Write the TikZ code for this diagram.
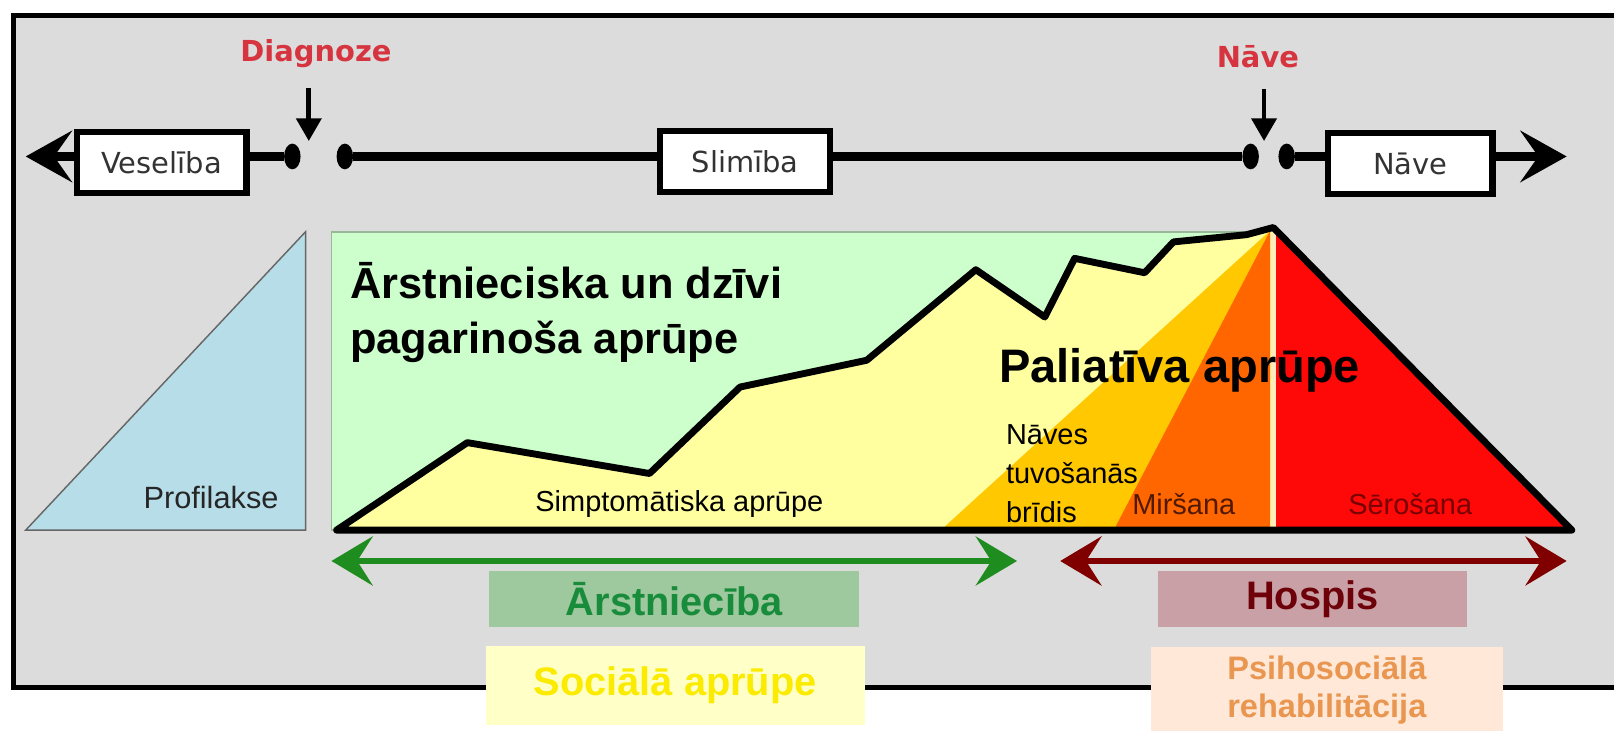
\documentclass[tikz,border=0pt]{standalone}
\usepackage{fontspec}
\setmainfont{Liberation Sans}
\newfontfamily\boxfont{DejaVu Sans}
\usetikzlibrary{arrows.meta, shapes.geometric}
\definecolor{framegray}{RGB}{220, 220, 220}
\definecolor{profblue}{RGB}{183, 222, 232}
\definecolor{curegreen}{RGB}{204, 255, 204}
\definecolor{sympyellow}{RGB}{255, 255, 160}
\definecolor{neargold}{RGB}{255, 200, 0}
\definecolor{dyingorange}{RGB}{255, 102, 0}
\definecolor{griefred}{RGB}{255, 8, 8}
\definecolor{creamline}{RGB}{255, 236, 190}
\definecolor{eventred}{RGB}{214, 52, 62}
\definecolor{curearrow}{RGB}{30, 140, 30}
\definecolor{hospisarrow}{RGB}{128, 0, 0}
\definecolor{curefill}{RGB}{158, 200, 158}
\definecolor{curetext}{RGB}{25, 140, 60}
\definecolor{hospisfill}{RGB}{200, 160, 166}
\definecolor{hospistext}{RGB}{110, 0, 10}
\definecolor{socialfill}{RGB}{255, 255, 200}
\definecolor{socialtext}{RGB}{250, 235, 0}
\definecolor{psychfill}{RGB}{255, 232, 215}
\definecolor{psychtext}{RGB}{232, 150, 80}
\tikzset{
  stagebox/.style={draw, line width=3.4pt, fill=white, minimum height=1.18cm, inner sep=0pt,
    font=\boxfont\fontsize{16}{18}\selectfont, text=black!80},
  tdot/.style={ellipse, fill=black, inner sep=0pt, minimum width=0.32cm, minimum height=0.5cm},
  timeline/.style={line width=4.6pt},
  eventlabel/.style={font=\boxfont\bfseries\fontsize{16}{18}\selectfont, text=eventred},
  eventarrow/.style={line width=2.6pt, -{Triangle[length=0.44cm, width=0.48cm]}},
  carearrow/.style={line width=3.6pt, {Stealth[length=0.8cm, width=0.95cm, inset=0.3cm]}-{Stealth[length=0.8cm, width=0.95cm, inset=0.3cm]}},
  servicebox/.style={minimum height=1.1cm, inner sep=0pt, font=\bfseries\fontsize{22}{24}\selectfont},
  phaselabel/.style={font=\fontsize{16}{21.5}\selectfont}
}
\begin{document}
\begin{tikzpicture}[x=0.02cm, y=-0.02cm]
        \useasboundingbox (0, 0) rectangle (1568, 710);
        \clip (0, 0) rectangle (1568, 710);
        % Frame
        \draw[line width=3pt, fill=framegray] (13, 15) rectangle (1620, 668);

        % Timeline
        \node[stagebox, minimum width=3.3cm] (ves) at (157, 158) {Veselība};
        \node[stagebox, minimum width=3.3cm] (slim) at (724, 157) {Slimība};
        \node[stagebox, minimum width=3.2cm] (nave) at (1370, 159) {Nāve};
        \node[tdot] (d1) at (284, 152) {};
        \node[tdot] (d2) at (335, 152) {};
        \node[tdot] (d3) at (1215, 152) {};
        \node[tdot] (d4) at (1250, 152) {};
        \coordinate (tlL) at (25, 152);
        \coordinate (tlR) at (1522, 152);
        \draw[timeline, -{Stealth[length=0.9cm, width=1cm, inset=0.35cm]}] (ves.west |- tlL) -- (tlL);
        \draw[timeline] (ves.east |- d1) -- (d1);
        \draw[timeline] (d2) -- (slim.west |- d2);
        \draw[timeline] (slim.east |- d3) -- (d3);
        \draw[timeline] (d4) -- (nave.west |- d4);
        \draw[timeline, -{Stealth[length=0.9cm, width=1cm, inset=0.35cm]}] (nave.east |- tlR) -- (tlR);

        % Events
        \node[eventlabel] (diag) at (307, 52) {Diagnoze};
        \node[eventlabel] (death) at (1222, 55) {Nāve};
        \coordinate (diagtip) at (300, 137);
        \coordinate (deathtip) at (1228, 137);
        \draw[eventarrow, shorten <=8pt] (diag.south -| diagtip) -- (diagtip);
        \draw[eventarrow, shorten <=8pt] (death.south -| deathtip) -- (deathtip);

        % Prophylaxis
        \draw[line width=0.8pt, draw=black!60, fill=profblue] (25, 515) -- (297, 225) -- (297, 515) -- cycle;
        \node[font=\fontsize{17}{19}\selectfont, text=black!85] (prof) at (205, 483) {Profilakse};

        % Care areas
        \draw[line width=1pt, draw=black!70!green!40, fill=curegreen] (322, 225) rectangle (1240, 515);
        \fill[sympyellow] (327, 515) -- (454, 430) -- (631, 460) -- (719, 376) -- (842, 350) -- (948, 262)
            -- (1015, 308) -- (1044, 251) -- (1112, 265) -- (1140, 235) -- (1211, 228) -- (1237, 221)
            -- (1237, 515) -- cycle;
        \fill[neargold] (914, 515) -- (1234, 224) -- (1234, 515) -- cycle;
        \fill[dyingorange] (1082, 515) -- (1234, 224) -- (1234, 515) -- cycle;
        \fill[griefred] (1239, 221) -- (1527, 515) -- (1239, 515) -- cycle;
        \draw[creamline, line width=2.6pt] (1237, 224) -- (1237, 513);
        \draw[line width=3.8pt, line join=round] (327, 515) -- (454, 430) -- (631, 460) -- (719, 376)
            -- (842, 350) -- (948, 262) -- (1015, 308) -- (1044, 251) -- (1112, 265) -- (1140, 235)
            -- (1211, 228) -- (1237, 221) -- (1527, 515) -- cycle;

        % Area labels
        \node[anchor=north west, inner sep=0pt, align=left, font=\bfseries\fontsize{24}{30}\selectfont] (cure) at (340, 255)
            {Ārstnieciska un dzīvi\\pagarinoša aprūpe};
        \node[font=\bfseries\fontsize{26}{28}\selectfont] (pal) at (1146, 360) {Paliatīva aprūpe};
        \node[phaselabel] (symp) at (660, 490) {Simptomātiska aprūpe};
        \node[phaselabel, anchor=west, align=left, inner sep=0pt] (near) at (977, 460) {Nāves\\tuvošanās\\brīdis};
        \node[phaselabel, text={rgb,255:red,80;green,25;blue,0}] (dying) at (1150, 490) {Miršana};
        \node[phaselabel, text={rgb,255:red,120;green,0;blue,0}] (grief) at (1370, 490) {Sērošana};

        % Services
        \coordinate (cureL) at (322, 545);
        \coordinate (cureR) at (988, 545);
        \coordinate (hospL) at (1030, 545);
        \coordinate (hospR) at (1522, 545);
        \draw[carearrow, curearrow] (cureL) -- (cureR);
        \draw[carearrow, hospisarrow] (hospL) -- (hospR);
        \node[servicebox, fill=curefill, text=curetext, minimum width=7.2cm] (treat) at (655, 582) {Ārstniecība};
        \node[servicebox, fill=hospisfill, text=hospistext, minimum width=6cm] (hosp) at (1275, 582) {Hospis};
        \node[servicebox, fill=socialfill, text=socialtext, minimum width=7.36cm, minimum height=1.54cm] (social) at (656, 666) {Sociālā aprūpe};
        \node[servicebox, fill=psychfill, text=psychtext, minimum width=6.84cm, minimum height=1.64cm, align=center, font=\bfseries\fontsize{18}{21}\selectfont] (psych) at (1289, 670) {Psihosociālā\\rehabilitācija};
\end{tikzpicture}
\end{document}
